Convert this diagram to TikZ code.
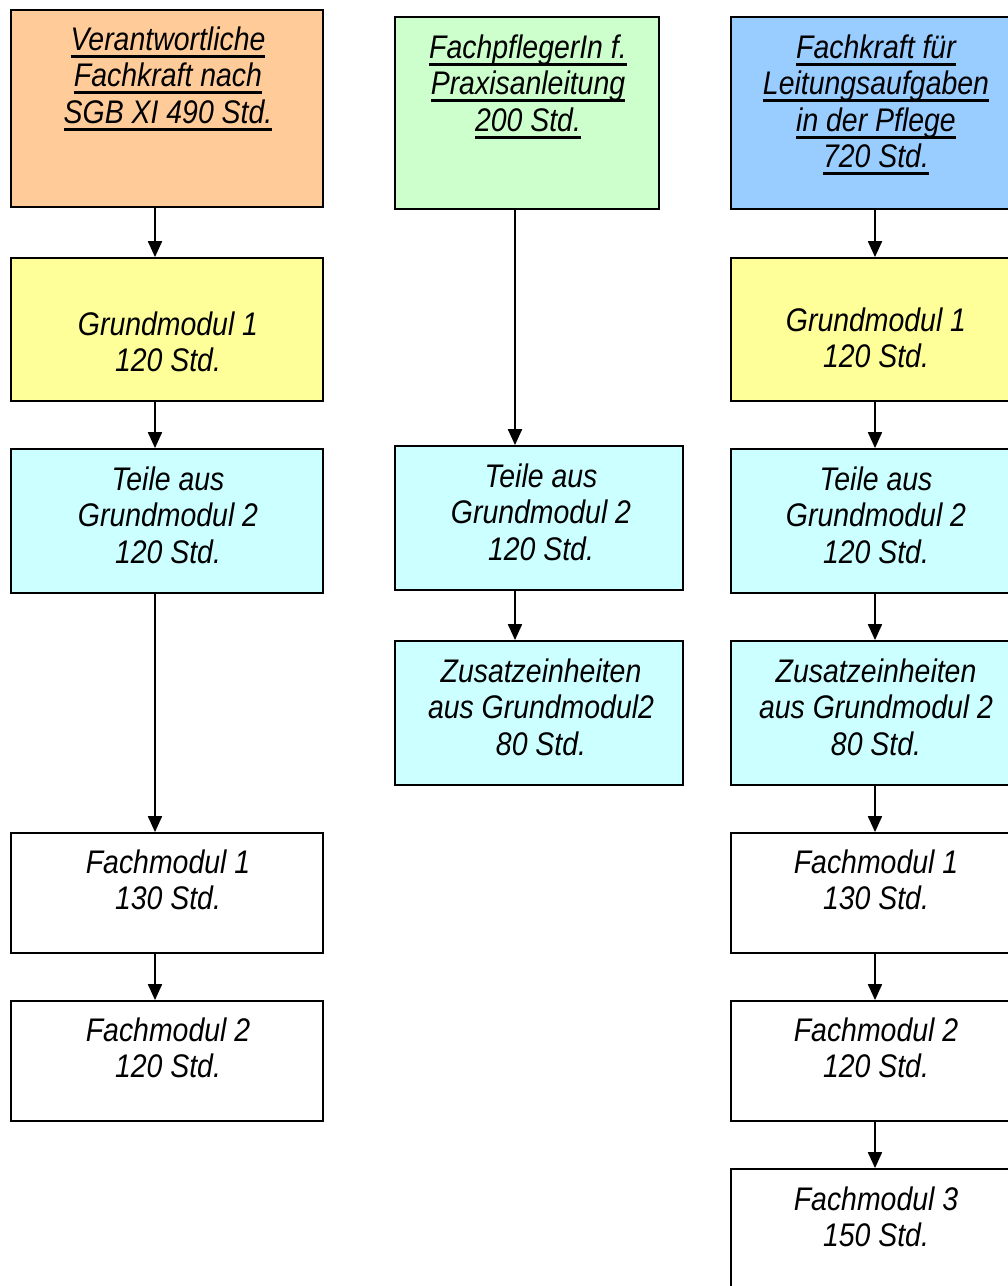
\documentclass[tikz,border=0pt]{standalone}
\usepackage{fontspec}
\setmainfont{Liberation Sans}[FakeStretch=0.87]
\usetikzlibrary{arrows.meta}

\newsavebox\ulinebox
\newcommand\ulin[1]{\sbox\ulinebox{#1}\rlap{\rule[-4.4pt]{\wd\ulinebox}{1.8pt}}\usebox\ulinebox}

\definecolor{orangebox}{HTML}{FFCC99}
\definecolor{greenbox}{HTML}{CCFFCC}
\definecolor{bluebox}{HTML}{99CCFF}
\definecolor{yellowbox}{HTML}{FFFF99}
\definecolor{cyanbox}{HTML}{CCFFFF}

\tikzset{
  box/.style={draw=black, line width=1.1pt, inner sep=0pt},
  txt/.style={anchor=north, align=center, inner sep=0pt,
    font=\fontsize{18.6}{20.8}\selectfont\itshape},
  arr/.style={line width=0.8pt, -{Triangle[width=8pt,length=9pt]}}
}

\begin{document}
\begin{tikzpicture}[x=0.02cm, y=-0.02cm]
			%%%%% FRAME %%%%%
			\useasboundingbox (0,0) rectangle (1008,1286);
			\clip (0,0) rectangle (1008,1286);
			
			\coordinate (ax) at (155,0);
			\coordinate (bx) at (515,0);
			\coordinate (cx) at (875,0);
			
			%%%%% LEFT COLUMN %%%%%
			\node[box, fill=orangebox, minimum width=6.24cm, minimum height=3.94cm] (vfk) at (167,108.5) {};
			\node[txt] (vfktxt) at (168,26) {\ulin{Verantwortliche}\\\ulin{Fachkraft nach}\\\ulin{SGB XI 490 Std.}};
			
			\node[box, fill=yellowbox, minimum width=6.24cm, minimum height=2.86cm] (vfkgm1) at (167,329.5) {};
			\node[txt] at (168,311) {Grundmodul 1\\120 Std.};
			
			\node[box, fill=cyanbox, minimum width=6.24cm, minimum height=2.88cm] (vfkgm2) at (167,521) {};
			\node[txt] at (168,466) {Teile aus\\Grundmodul 2\\120 Std.};
			
			\node[box, fill=white, minimum width=6.24cm, minimum height=2.4cm] (vfkfm1) at (167,893) {};
			\node[txt] at (168,849) {Fachmodul 1\\130 Std.};
			
			\node[box, fill=white, minimum width=6.24cm, minimum height=2.4cm] (vfkfm2) at (167,1061) {};
			\node[txt] at (168,1017) {Fachmodul 2\\120 Std.};
			
			%%%%% MIDDLE COLUMN %%%%%
			\node[box, fill=greenbox, minimum width=5.28cm, minimum height=3.84cm] (pa) at (527,113) {};
			\node[txt] at (528,34) {\ulin{FachpflegerIn f.}\\\ulin{Praxisanleitung}\\\ulin{200 Std.}};
			
			\node[box, fill=cyanbox, minimum width=5.76cm, minimum height=2.88cm] (pagm2) at (539,518) {};
			\node[txt] at (541,463) {Teile aus\\Grundmodul 2\\120 Std.};
			
			\node[box, fill=cyanbox, minimum width=5.76cm, minimum height=2.88cm] (pazus) at (539,713) {};
			\node[txt] at (541,658) {Zusatzeinheiten\\aus Grundmodul2\\80 Std.};
			
			%%%%% RIGHT COLUMN %%%%%
			\node[box, fill=bluebox, minimum width=5.8cm, minimum height=3.84cm] (la) at (876,113) {};
			\node[txt] at (876,34) {\ulin{Fachkraft für}\\\ulin{Leitungsaufgaben}\\\ulin{in der Pflege}\\\ulin{720 Std.}};
			
			\node[box, fill=yellowbox, minimum width=5.8cm, minimum height=2.86cm] (lagm1) at (876,329.5) {};
			\node[txt] at (876,307) {Grundmodul 1\\120 Std.};
			
			\node[box, fill=cyanbox, minimum width=5.8cm, minimum height=2.88cm] (lagm2) at (876,521) {};
			\node[txt] at (876,466) {Teile aus\\Grundmodul 2\\120 Std.};
			
			\node[box, fill=cyanbox, minimum width=5.8cm, minimum height=2.88cm] (lazus) at (876,713) {};
			\node[txt] at (876,658) {Zusatzeinheiten\\aus Grundmodul 2\\80 Std.};
			
			\node[box, fill=white, minimum width=5.8cm, minimum height=2.4cm] (lafm1) at (876,893) {};
			\node[txt] at (876,849) {Fachmodul 1\\130 Std.};
			
			\node[box, fill=white, minimum width=5.8cm, minimum height=2.4cm] (lafm2) at (876,1061) {};
			\node[txt] at (876,1017) {Fachmodul 2\\120 Std.};
			
			\node[box, fill=white, minimum width=5.8cm, minimum height=2.4cm] (lafm3) at (876,1229) {};
			\node[txt] at (876,1186) {Fachmodul 3\\150 Std.};
			
			%%%%% ARROWS %%%%%
			\draw[arr] (vfk.south -| ax) -- (vfkgm1.north -| ax);
			\draw[arr] (vfkgm1.south -| ax) -- (vfkgm2.north -| ax);
			\draw[arr] (vfkgm2.south -| ax) -- (vfkfm1.north -| ax);
			\draw[arr] (vfkfm1.south -| ax) -- (vfkfm2.north -| ax);
			
			\draw[arr] (pa.south -| bx) -- (pagm2.north -| bx);
			\draw[arr] (pagm2.south -| bx) -- (pazus.north -| bx);
			
			\draw[arr] (la.south -| cx) -- (lagm1.north -| cx);
			\draw[arr] (lagm1.south -| cx) -- (lagm2.north -| cx);
			\draw[arr] (lagm2.south -| cx) -- (lazus.north -| cx);
			\draw[arr] (lazus.south -| cx) -- (lafm1.north -| cx);
			\draw[arr] (lafm1.south -| cx) -- (lafm2.north -| cx);
			\draw[arr] (lafm2.south -| cx) -- (lafm3.north -| cx);
			
			%%%%% END %%%%%
\end{tikzpicture}
\end{document}
